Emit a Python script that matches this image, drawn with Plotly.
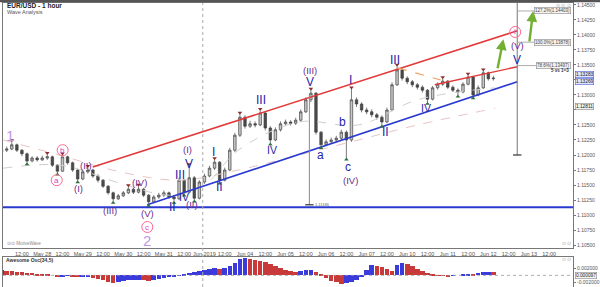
import plotly.graph_objects as go

# ---------------- DATA ----------------
# 3-hour bars, x = trading hours since Mon May 27 00:00 (weekends removed)
bar_step_hours = 3
first_open = 1.1206
closes = [1.1208,1.1210,1.1217,1.1208,1.1202,1.1190,1.1195,1.1192,1.1195,1.1197,
          1.1183,1.1173,1.1197,1.1187,1.1175,1.1160,1.1172,1.1175,1.1165,1.1158,
          1.1148,1.1137,1.1127,1.1132,1.1137,1.1143,1.1138,1.1143,1.1133,1.1122,
          1.1130,1.1133,1.1137,1.1130,1.1127,1.1158,1.1138,1.1162,1.1128,1.1155,
          1.1165,1.1178,1.1188,1.1158,1.1175,1.1208,1.1233,1.1263,1.1248,1.1252,
          1.1250,1.1270,1.1245,1.1225,1.1242,1.1252,1.1255,1.1253,1.1258,1.1272,
          1.1292,1.1303,1.1238,1.1217,1.1222,1.1225,1.1228,1.1238,1.1225,1.1292,
          1.1285,1.1275,1.1272,1.1267,1.1263,1.1255,1.1275,1.1317,1.1342,1.1328,
          1.1322,1.1317,1.1313,1.1308,1.1293,1.1312,1.1318,1.1323,1.1313,1.1308,
          1.1305,1.1318,1.1330,1.1300,1.1312,1.1337,1.1327,1.1328]
highs = [1.1212,1.1214,1.1222,1.1219,1.1210,1.1204,1.1198,1.1198,1.1199,1.1201,
         1.1199,1.1185,1.1200,1.1199,1.1189,1.1177,1.1176,1.1179,1.1177,1.1168,
         1.1160,1.1150,1.1139,1.1135,1.1140,1.1147,1.1146,1.1148,1.1145,1.1135,
         1.1133,1.1137,1.1141,1.1139,1.1133,1.1162,1.1160,1.1182,1.1165,1.1158,
         1.1169,1.1182,1.1192,1.1190,1.1179,1.1212,1.1237,1.1268,1.1266,1.1257,
         1.1256,1.1274,1.1272,1.1248,1.1246,1.1256,1.1259,1.1258,1.1262,1.1276,
         1.1296,1.1308,1.1305,1.1240,1.1226,1.1229,1.1232,1.1242,1.1241,1.1310,
         1.1296,1.1288,1.1279,1.1276,1.1270,1.1266,1.1279,1.1321,1.1348,1.1345,
         1.1331,1.1325,1.1320,1.1316,1.1310,1.1315,1.1321,1.1327,1.1325,1.1316,
         1.1311,1.1321,1.1333,1.1332,1.1316,1.1340,1.1339,1.1332]
lows = [1.1203,1.1205,1.1208,1.1205,1.1198,1.1187,1.1188,1.1189,1.1190,1.1192,
        1.1180,1.1170,1.1172,1.1184,1.1172,1.1157,1.1158,1.1169,1.1162,1.1154,
        1.1145,1.1134,1.1123,1.1125,1.1130,1.1135,1.1135,1.1136,1.1130,1.1118,
        1.1120,1.1127,1.1130,1.1127,1.1123,1.1125,1.1135,1.1136,1.1125,1.1126,
        1.1152,1.1163,1.1175,1.1155,1.1156,1.1173,1.1205,1.1230,1.1244,1.1245,
        1.1246,1.1248,1.1241,1.1220,1.1223,1.1239,1.1249,1.1249,1.1250,1.1255,
        1.1270,1.1288,1.1234,1.1214,1.1215,1.1219,1.1222,1.1225,1.1195,1.1222,
        1.1280,1.1271,1.1268,1.1263,1.1259,1.1250,1.1253,1.1273,1.1315,1.1324,
        1.1318,1.1313,1.1309,1.1304,1.1288,1.1291,1.1309,1.1315,1.1310,1.1305,
        1.1300,1.1303,1.1316,1.1297,1.1298,1.1310,1.1324,1.1324]
awesome_osc = [0.0015,0.0014,0.0013,0.0011,0.0009,0.0008,0.0007,0.0005,0.0003,0.0002,
               0.0000,-0.0003,-0.0002,-0.0001,-0.0003,-0.0006,-0.0006,-0.0005,-0.0007,-0.0010,
               -0.0014,-0.0018,-0.0021,-0.0020,-0.0017,-0.0014,-0.0013,-0.0012,-0.0013,-0.0016,
               -0.0013,-0.0010,-0.0007,-0.0005,-0.0004,0.0001,0.0003,0.0008,0.0009,0.0012,
               0.0015,0.0019,0.0022,0.0020,0.0021,0.0028,0.0037,0.0047,0.0051,0.0048,
               0.0045,0.0044,0.0041,0.0034,0.0027,0.0021,0.0016,0.0013,0.0011,0.0012,
               0.0015,0.0016,0.0011,0.0002,-0.0008,-0.0015,-0.0020,-0.0024,-0.0022,-0.0018,
               -0.0012,-0.0004,0.0015,0.0030,0.0028,0.0024,0.0018,0.0012,0.0030,0.0038,
               0.0034,0.0027,0.0020,0.0013,0.0006,0.0002,0.0001,-0.0001,-0.0002,-0.0001,
               0.0000,0.0002,0.0005,0.0004,0.0006,0.0010,0.0011,0.0009]

tick_labels = ["12:00","May 28","12:00","May 29","12:00","May 30","12:00","May 31","12:00",
               "Jun 2019","12:00","Jun 04","12:00","Jun 05","12:00","Jun 06","12:00","Jun 07",
               "12:00","Jun 10","12:00","Jun 11","12:00","Jun 12","12:00","Jun 13","12:00"]
price_ticks = [1.105,1.1075,1.11,1.1125,1.115,1.1175,1.12,1.1225,1.125,1.1275,
               1.13,1.1325,1.135,1.1375,1.14,1.1425,1.145]
hidden_price_ticks = [1.1275, 1.1325]   # covered by price flags in the picture
osc_ticks = [0.002, -0.002]

# moving averages (sparse readings)
ma_slow_hours = [1, 34, 70, 105, 140, 176, 211, 246, 292]
ma_slow_vals = [1.1225, 1.1200, 1.1172, 1.1158, 1.1175, 1.1200, 1.1225, 1.1250, 1.1278]
ma_fast_hours = [1, 35, 70, 100, 120, 140, 176, 211, 246, 292]
ma_fast_vals = [1.1178, 1.1183, 1.1153, 1.1133, 1.1150, 1.1208, 1.1255, 1.1250, 1.1292, 1.1312]

# trend lines (hour, price)
red_channel_h = [53.9, 305.1]; red_channel_p = [1.1180, 1.1407]
blue_channel_h = [86.2, 305.1]; blue_channel_p = [1.1117, 1.1322]
support_h = [0, 340]; support_p = [1.1113, 1.1113]
red_short_h = [256.3, 305.1]; red_short_p = [1.1317, 1.1347]
orange_h = [234.5, 259.8]; orange_p = [1.1345, 1.1325]
measure1_h = [182.1, 182.1]; measure1_p = [1.1300, 1.1117]
measure2_h = [305.1, 305.1]; measure2_p = [1.1458, 1.1200]
fib_levels = [1.1440, 1.1388, 1.1349]
fib_texts = ["127.2%(1.14403)", "100.0%(1.13878)", "78.6%(1.13497)"]
arrows = [((293.3, 1.1342), (296.9, 1.1393)), ((312.2, 1.1387), (314.5, 1.1440))]

top_pivot_bars = [2, 9, 12, 17, 25, 27, 37, 42, 47, 51, 61, 69, 78, 87, 92, 95]
bottom_pivot_bars = [5, 11, 15, 22, 29, 34, 36, 38, 43, 53, 63, 68, 75, 84, 90, 93]

blue_labels = [("II",101.0,1.1113),("III",105.6,1.1167),("V",110.9,1.1185),("I",125.6,1.1205),
               ("II",129.1,1.1147),("III",153.3,1.1292),("V",182.7,1.1322),("I",206.2,1.1325),
               ("II",227.4,1.1238),("III",232.7,1.1358),("V",305.1,1.1358),
               ("a",188.6,1.1200),("b",201.5,1.1255),("c",205.0,1.1180)]
blue_small_labels = [("IV",107.9,1.1130),("IV",159.7,1.1208),("IV",250.9,1.1278)]
purple_labels = [("(I)",45.6,1.1145),("(II)",49.7,1.1183),("(III)",64.4,1.1108),("(IV)",81.5,1.1155),
                 ("(V)",86.2,1.1103),("(I)",109.7,1.1210),("(II)",112.6,1.1117),("(III)",182.7,1.1340),
                 ("(IV)",206.2,1.1157),("(V)",305.1,1.1382)]
circle_labels = [("a",32.6,1.1158),("b",36.1,1.1208),("c",86.2,1.1080),("i",303.9,1.1405)]
big_labels = [("1",4.9,1.1233),("2",86.2,1.1058)]

# ---------------- FIGURE ----------------
n = len(closes)
bar_hours = [bar_step_hours * i for i in range(n)]
opens = [first_open] + closes[:-1]
tick_hours = [12 * (i + 1) for i in range(len(tick_labels))]
XR = [0.8, 338.1]
FONT = "Liberation Sans, Arial, sans-serif"
BLUE = "#2626a8"; PURPLE = "#6c2c8a"; PINK = "#d640cc"; LILAC = "#bf98e6"

fig = go.Figure()

def line(h, p, color, width=1.0, dash="solid", shape="linear"):
    fig.add_trace(go.Scatter(x=h, y=p, mode="lines", line=dict(color=color, width=width, dash=dash, shape=shape),
                             hoverinfo="skip", xaxis="x", yaxis="y"))

line(ma_slow_hours, ma_slow_vals, "#e8c4c4", 1, "dash", "spline")
line(ma_fast_hours, ma_fast_vals, "#cfcfcf", 1, "dash", "spline")

fig.add_trace(go.Candlestick(
    x=bar_hours, open=opens, high=highs, low=lows, close=closes,
    increasing=dict(line=dict(color="#444444", width=0.7), fillcolor="#c8c8c8"),
    decreasing=dict(line=dict(color="#444444", width=0.7), fillcolor="#4a4a4a"),
    whiskerwidth=0, hoverinfo="skip", xaxis="x", yaxis="y"))

line(support_h, support_p, "#2a3ad0", 2)
line(red_channel_h, red_channel_p, "#e23a3a", 1.6)
line(blue_channel_h, blue_channel_p, "#2a3ad0", 1.6)
line(red_short_h, red_short_p, "#e23a3a", 1.4)
line(orange_h, orange_p, "#f0a060", 1.2, "dash")
line(measure1_h, measure1_p, "#8a8a8a", 1)
line(measure2_h, measure2_p, "#777777", 1)
for lv in fib_levels:
    line([305.1, 321.0], [lv, lv], "#999999", 0.8)

# pivot markers
fig.add_trace(go.Scatter(x=[bar_hours[k] for k in top_pivot_bars],
                         y=[highs[k] + 0.00025 for k in top_pivot_bars],
                         mode="markers", marker=dict(symbol="triangle-down", size=4, color="#8b2e2e"),
                         hoverinfo="skip", xaxis="x", yaxis="y"))
fig.add_trace(go.Scatter(x=[bar_hours[k] for k in bottom_pivot_bars],
                         y=[lows[k] - 0.00025 for k in bottom_pivot_bars],
                         mode="markers", marker=dict(symbol="triangle-up", size=4, color="#2f6f3f"),
                         hoverinfo="skip", xaxis="x", yaxis="y"))
# end ticks of measurement lines
fig.add_trace(go.Scatter(x=[measure1_h[1], measure2_h[1]], y=[measure1_p[1], measure2_p[1]],
                         mode="markers", marker=dict(symbol="line-ew", size=6, line=dict(width=1.2, color="#333")),
                         hoverinfo="skip", xaxis="x", yaxis="y"))
# circles for circled labels
fig.add_trace(go.Scatter(x=[c[1] for c in circle_labels], y=[c[2] for c in circle_labels],
                         mode="markers", marker=dict(symbol="circle-open", size=11, line=dict(width=1, color="#e690e0")),
                         hoverinfo="skip", xaxis="x", yaxis="y"))

# awesome oscillator
ao_colors = ["#3b3bdc"] + ["#3b3bdc" if awesome_osc[i] >= awesome_osc[i - 1] else "#c83a3a" for i in range(1, n)]
fig.add_trace(go.Bar(x=bar_hours, y=awesome_osc, width=2.7, marker=dict(color=ao_colors, line=dict(width=0)),
                     hoverinfo="skip", xaxis="x2", yaxis="y2"))
fig.add_trace(go.Scatter(x=XR, y=[0, 0], mode="lines", line=dict(color="#999", width=0.8, dash="dot"),
                         hoverinfo="skip", xaxis="x2", yaxis="y2"))

ann = []
def lab(text, h, p, color, size, bold=False):
    t = f"<b>{text}</b>" if bold else text
    ann.append(dict(x=h, y=p, xref="x", yref="y", text=t, showarrow=False,
                    font=dict(family=FONT, size=size, color=color), xanchor="center", yanchor="middle"))

for t, h, p in blue_labels:
    lab(t, h, p, BLUE, 12)
for t, h, p in blue_small_labels:
    lab(t, h, p, BLUE, 10.5)
for t, h, p in purple_labels:
    lab(t, h, p, PURPLE, 9.5)
for t, h, p in circle_labels:
    lab(t, h, p, PINK, 8)
for t, h, p in big_labels:
    lab(t, h, p, LILAC, 15)

for (ah, ap), (h, p) in arrows:
    ann.append(dict(x=h, y=p, ax=ah, ay=ap, xref="x", yref="y", axref="x", ayref="y", text="",
                    showarrow=True, arrowhead=2, arrowsize=0.9, arrowwidth=2.4, arrowcolor="#72b033"))

for lv, t in zip(fib_levels, fib_texts):
    ann.append(dict(x=337.0, y=lv, xref="x", yref="y", text=t, showarrow=False, xanchor="right",
                    font=dict(family=FONT, size=4.5, color="#444"), bgcolor="#f4f4f4",
                    bordercolor="#888", borderwidth=0.6, borderpad=0.5))
ann.append(dict(x=337.0, y=1.1340, xref="x", yref="y", text="<b>5 vs 1=3</b>", showarrow=False,
                xanchor="right", font=dict(family=FONT, size=4.5, color="#333")))
ann.append(dict(x=184.0, y=1.1118, xref="x", yref="y", text="1.11186", showarrow=False, xanchor="left",
                font=dict(family=FONT, size=4, color="#666")))

def paper(xpx, ypx):
    return (xpx - 3) / 573, (287 - ypx) / 284

def ptext(xpx, ypx, text, size, color="#333", xanchor="left", **kw):
    px, py = paper(xpx, ypx)
    ann.append(dict(x=px, y=py, xref="paper", yref="paper", text=text, showarrow=False, xanchor=xanchor,
                    yanchor="middle", font=dict(family=FONT, size=size, color=color), **kw))

ptext(5, 6, "<b>EUR/USD - 1 hour</b>", 6.5, "#222")
ptext(5, 12, "Wave Analysis", 5.5, "#555")
ptext(5, 243, "⊙⊙ MotiveWave", 4.5, "#888")
ptext(4, 260, "<b>Awesome Osc(34,5)</b>", 5, "#333")
ptext(566, 6, "⊙ ⊙ ⊙", 4.5, "#aaa", "center")
ptext(569, 243, "⊙ ⊙", 4.5, "#aaa", "center")
ptext(569, 259, "⊙ ⊙", 4.5, "#aaa", "center")

# right-axis price flags
for p, t, bg, bc in [(1.13345, "1.13283", "#dfe4ff", "#5060d0"), (1.13225, "1.13269", "#dfe4ff", "#5060d0"),
                     (1.12811, "1.12811", "#f0f0f0", "#888888")]:
    ann.append(dict(x=1.003, y=p, xref="paper", yref="y", text=t, showarrow=False, xanchor="left",
                    font=dict(family=FONT, size=4.8, color="#222"), bgcolor=bg, bordercolor=bc,
                    borderwidth=0.6, borderpad=0.3))
ann.append(dict(x=1.003, y=0.0001, xref="paper", yref="y2", text="0.000097", showarrow=False, xanchor="left",
                font=dict(family=FONT, size=4.8, color="#222"), bgcolor="#f4f4f4", bordercolor="#888",
                borderwidth=0.6, borderpad=0.3))

shapes = [
    dict(type="line", xref="x", yref="paper", x0=119, x1=119, y0=0, y1=1,
         line=dict(color="#aaaaaa", width=1, dash="dot")),
    dict(type="line", xref="paper", yref="paper", x0=-0.01, x1=1.05, y0=1.008, y1=1.008,
         line=dict(color="#555", width=3)),
]

price_ticktext = ["" if v in hidden_price_ticks else f"{v:.5f}" for v in price_ticks]

axis_common = dict(showgrid=False, zeroline=False, showline=True, linecolor="#777", linewidth=1, mirror=True)
fig.update_layout(
    width=600, height=287, margin=dict(l=3, r=24, t=3, b=0),
    paper_bgcolor="white", plot_bgcolor="white", showlegend=False,
    font=dict(family=FONT, size=5.5, color="#555"),
    xaxis=dict(domain=[0, 1], range=XR, tickvals=tick_hours, ticktext=tick_labels, ticks="",
               tickfont=dict(size=5.5, color="#555"), rangeslider=dict(visible=False), anchor="y",
               **axis_common),
    yaxis=dict(domain=[0.1373, 1], range=[1.1045, 1.14533], side="right", tickvals=price_ticks,
               ticktext=price_ticktext, ticks="outside", ticklen=2, tickcolor="#777",
               tickfont=dict(size=5, color="#555"), anchor="x", **axis_common),
    xaxis2=dict(domain=[0, 1], range=XR, showticklabels=False, ticks="", anchor="y2", **axis_common),
    yaxis2=dict(domain=[0, 0.106], range=[-0.00343, 0.00543], side="right", tickvals=osc_ticks,
                ticktext=["0.002000", "-0.002000"], ticks="outside", ticklen=2, tickcolor="#777",
                tickfont=dict(size=5, color="#555"), anchor="x2", **axis_common),
    annotations=ann, shapes=shapes, bargap=0,
)

fig.write_html("out.html")
